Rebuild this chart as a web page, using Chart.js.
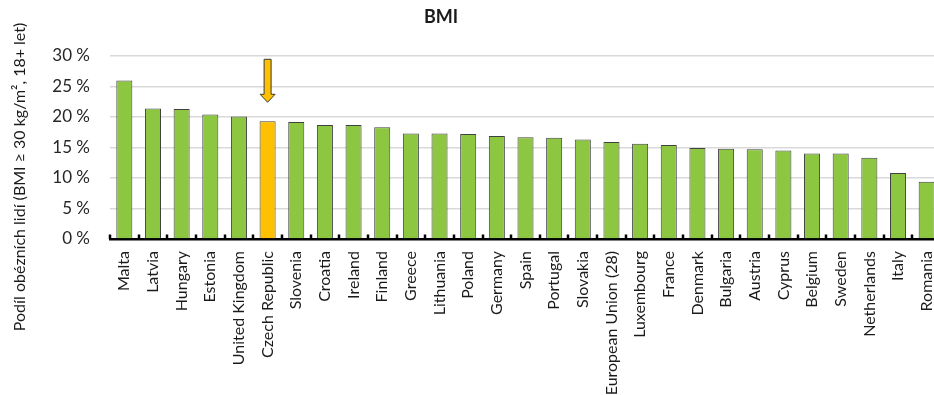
<!DOCTYPE html>
<html>
<head>
<meta charset="utf-8">
<script src="https://cdn.jsdelivr.net/npm/chart.js@4/dist/chart.umd.min.js"></script>
<style>
  html, body { margin: 0; padding: 0; background: #fff; overflow: hidden; }
  #wrap { width: 941px; height: 395px; }
</style>
</head>
<body>
<div id="wrap"><canvas id="c" width="941" height="395"></canvas></div>
<script>
// Share of obese adults (BMI >= 30), by country
const countries = [
  'Malta', 'Latvia', 'Hungary', 'Estonia', 'United Kingdom', 'Czech Republic',
  'Slovenia', 'Croatia', 'Ireland', 'Finland', 'Greece', 'Lithuania', 'Poland',
  'Germany', 'Spain', 'Portugal', 'Slovakia', 'European Union (28)', 'Luxembourg',
  'France', 'Denmark', 'Bulgaria', 'Austria', 'Cyprus', 'Belgium', 'Sweden',
  'Netherlands', 'Italy', 'Romania'
];
const obesityShare = [
  26.0, 21.4, 21.3, 20.4, 20.1, 19.3,
  19.2, 18.7, 18.7, 18.3, 17.3, 17.3, 17.2,
  16.9, 16.7, 16.6, 16.3, 15.9, 15.6,
  15.4, 14.9, 14.8, 14.7, 14.5, 14.0, 14.0,
  13.3, 10.8, 9.4
];
const yTicks = [0, 5, 10, 15, 20, 25, 30];
const highlighted = 'Czech Republic';
const chartTitle = 'BMI';
const yTitle = 'Podíl obézních lidí (BMI ≥ 30 kg/m², 18+ let)';

const FONT = 'Lato, "Open Sans", sans-serif';
const GREEN = '#8DC641';
const ORANGE = '#FFC000';

const barColors = countries.map(c => c === highlighted ? ORANGE : GREEN);

// Title, rotated y-axis caption, inward ticks on the baseline and the marker arrow
const decorations = {
  id: 'decorations',
  afterDatasetsDraw(chart) {
    const { ctx, scales } = chart;
    const x = scales.x, y = scales.y;
    ctx.save();

    // short upward ticks at category boundaries
    const base = y.getPixelForValue(0);
    const n = countries.length;
    const step = (x.right - x.left) / n;
    ctx.strokeStyle = '#000';
    ctx.lineWidth = 2.5;
    for (let i = 0; i <= n; i++) {
      const px = Math.round(x.left + i * step);
      ctx.beginPath();
      ctx.moveTo(px, base);
      ctx.lineTo(px, base - 4.5);
      ctx.stroke();
    }

    // arrow pointing at the highlighted bar
    const idx = countries.indexOf(highlighted);
    const ax = x.getPixelForValue(idx);
    const tip = y.getPixelForValue(obesityShare[idx]) - 19;
    const top = tip - 43;
    const headBase = tip - 8;
    ctx.beginPath();
    ctx.moveTo(ax - 3.5, top);
    ctx.lineTo(ax + 3.5, top);
    ctx.lineTo(ax + 3.5, headBase);
    ctx.lineTo(ax + 7.5, headBase);
    ctx.lineTo(ax, tip);
    ctx.lineTo(ax - 7.5, headBase);
    ctx.lineTo(ax - 3.5, headBase);
    ctx.closePath();
    ctx.fillStyle = ORANGE;
    ctx.fill();
    ctx.strokeStyle = '#3a3a3a';
    ctx.lineWidth = 1;
    ctx.stroke();

    // chart title
    ctx.fillStyle = '#1a1a1a';
    ctx.font = 'bold 18px ' + FONT;
    ctx.textAlign = 'center';
    ctx.textBaseline = 'middle';
    ctx.fillText(chartTitle, 441, 17);

    // y-axis caption
    ctx.translate(20, 177);
    ctx.rotate(-Math.PI / 2);
    ctx.fillStyle = '#1a1a1a';
    ctx.font = '16px ' + FONT;
    ctx.fillText(yTitle, 0, 0);
    ctx.restore();
  }
};

new Chart(document.getElementById('c'), {
  type: 'bar',
  data: {
    labels: countries,
    datasets: [{
      data: obesityShare,
      backgroundColor: barColors,
      borderColor: '#404040',
      borderWidth: 1,
      barPercentage: 0.56,
      categoryPercentage: 1.0
    }]
  },
  options: {
    responsive: false,
    animation: false,
    layout: { padding: { top: 56, left: 0, right: 0, bottom: 0 } },
    plugins: {
      legend: { display: false },
      title: { display: false },
      tooltip: { enabled: false }
    },
    scales: {
      x: {
        afterFit(scale) {
          scale.height = 156;
          scale.paddingLeft = 0;
          scale.paddingRight = 0;
        },
        grid: { display: false, drawTicks: false },
        border: { display: true, color: '#000', width: 2.5 },
        ticks: {
          autoSkip: false,
          maxRotation: 90,
          minRotation: 90,
          padding: 12,
          color: '#1a1a1a',
          font: { family: FONT, size: 16 }
        }
      },
      y: {
        min: 0,
        max: 30,
        afterFit(scale) {
          scale.width = 110;
          scale.paddingTop = 0;
          scale.paddingBottom = 0;
        },
        afterBuildTicks(scale) { scale.ticks = yTicks.map(v => ({ value: v })); },
        grid: { color: '#D9D9D9', lineWidth: 1.5, drawTicks: false },
        border: { display: false },
        ticks: {
          padding: 20,
          color: '#262626',
          font: { family: FONT, size: 17 },
          callback: v => v + ' %'
        }
      }
    }
  },
  plugins: [decorations]
});
</script>
</body>
</html>
